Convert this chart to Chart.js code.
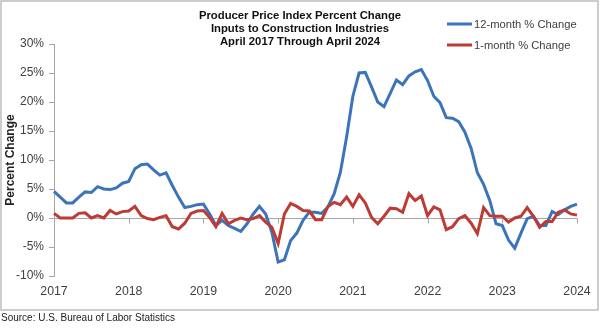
<!DOCTYPE html>
<html>
<head>
<meta charset="utf-8">
<script src="https://cdn.jsdelivr.net/npm/chart.js@4.4.1/dist/chart.umd.min.js"></script>
<style>
  html, body { margin: 0; padding: 0; background: #fff; }
  #wrap { position: relative; width: 600px; height: 328px; overflow: hidden; }
  #c { position: absolute; left: 0; top: 0; }
  #source {
    position: absolute; left: 1px; top: 312px;
    font: 10px "Liberation Sans", Arial, sans-serif; color: #222;
    white-space: nowrap;
  }
</style>
</head>
<body>
<div id="wrap">
  <canvas id="c" width="600" height="328"></canvas>
  <div id="source">Source: U.S. Bureau of Labor Statistics</div>
</div>
<script>
// Chart text
const titleLines = [
  'Producer Price Index Percent Change',
  'Inputs to Construction Industries',
  'April 2017 Through April 2024'
];
const yAxisTitle = 'Percent Change';
const seriesNames = ['12-month % Change', '1-month % Change'];

// Categories: monthly, April 2017 through April 2024
const startYear = 2017, startMonth = 3; // April (0-based)
const monthCount = 85;
const months = [];
for (let i = 0; i < monthCount; i++) {
  const m = startMonth + i;
  months.push(new Date(startYear + Math.floor(m / 12), m % 12, 1)
    .toLocaleString('en-US', { month: 'short', year: 'numeric' }));
}

// Year labels shown every 12 months along the bottom axis
const yearLabels = ['2017', '2018', '2019', '2020', '2021', '2022', '2023', '2024'];

// 12-month percent change
const twelveMonth = [
  4.6, 3.6, 2.6, 2.6, 3.6, 4.5, 4.4, 5.4, 5.0, 4.9, 5.2, 6.0,
  6.3, 8.5, 9.2, 9.3, 8.3, 7.4, 7.8, 5.6, 3.6, 1.8, 2.0, 2.3,
  2.4, 0.7, -1.3, -0.4, -1.3, -1.8, -2.3, -1.0, 0.7, 2.0, 0.7, -2.5,
  -7.6, -7.2, -3.9, -2.6, -0.4, 1.0, 1.0, 0.8, 1.9, 4.2, 7.9, 14.0,
  21.0, 25.0, 25.1, 22.6, 20.0, 19.2, 21.5, 23.8, 23.0, 24.5, 25.2, 25.6,
  23.7, 21.0, 19.9, 17.3, 17.2, 16.6, 14.8, 12.0, 7.8, 5.8, 3.0, -1.0,
  -1.3, -3.8, -5.2, -2.6, -0.1, 0.3, -1.3, -1.3, 1.1, 0.6, 1.4, 2.0,
  2.4
];

// 1-month percent change
const oneMonth = [
  0.8, 0.0, 0.0, 0.0, 0.8, 0.9, 0.0, 0.4, 0.0, 1.3, 0.7, 1.1,
  1.2, 2.0, 0.4, -0.1, -0.3, 0.1, 0.4, -1.5, -1.9, -0.9, 0.8, 1.2,
  1.3, 0.1, -1.5, 0.8, -1.0, -0.4, 0.0, -0.3, -0.1, 0.4, -0.7, -1.6,
  -4.4, 0.7, 2.5, 2.0, 1.3, 1.2, -0.3, -0.3, 2.0, 2.7, 2.3, 3.6,
  2.0, 4.0, 2.6, 0.1, -1.0, 0.3, 1.7, 1.6, 1.0, 4.2, 3.0, 3.8,
  0.4, 1.9, 1.4, -2.0, -1.5, -0.1, 0.4, -0.9, -2.7, 1.8, 0.4, 0.3,
  0.3, -0.7, 0.0, 0.3, 1.8, 0.3, -1.6, -0.6, -0.6, 1.0, 1.4, 0.7,
  0.5
];

const BLUE = '#3b74b9';
const RED = '#be3a35';
const AXIS = '#a6a6a6';
const FONT = '"Liberation Sans", Arial, sans-serif';

// Frame, heading, legend and the year tick marks on the zero line
const decorations = {
  id: 'decorations',
  afterDraw(chart) {
    const ctx = chart.ctx;
    const x = chart.scales.x, y = chart.scales.y;
    ctx.save();

    // outer frame
    ctx.strokeStyle = '#bdbdbd';
    ctx.lineWidth = 1.5;
    ctx.strokeRect(1, 1, 597, 309);

    // tick marks under the zero line at each year
    const y0 = Math.round(y.getPixelForValue(0)) + 0.5;
    ctx.strokeStyle = AXIS;
    ctx.lineWidth = 1;
    ctx.beginPath();
    for (let i = 0; i < monthCount; i += 12) {
      const px = Math.round(x.getPixelForValue(i)) + 0.5;
      ctx.moveTo(px, y0);
      ctx.lineTo(px, y0 + 5);
    }
    ctx.stroke();

    // heading
    ctx.fillStyle = '#111';
    ctx.font = 'bold 11.3px ' + FONT;
    ctx.textAlign = 'center';
    ctx.textBaseline = 'middle';
    titleLines.forEach((t, k) => ctx.fillText(t, 300, 15.5 + k * 13.4));

    // legend
    ctx.font = '11.2px ' + FONT;
    ctx.textAlign = 'left';
    ctx.fillStyle = '#404040';
    chart.data.datasets.forEach((ds, k) => {
      const ly = 24 + k * 21;
      ctx.strokeStyle = ds.borderColor;
      ctx.lineWidth = 3;
      ctx.beginPath();
      ctx.moveTo(447, ly);
      ctx.lineTo(472, ly);
      ctx.stroke();
      ctx.fillText(ds.label, 474, ly + 1);
    });
    ctx.restore();
  }
};

new Chart(document.getElementById('c'), {
  type: 'line',
  data: {
    labels: months,
    datasets: [
      { label: seriesNames[0], data: twelveMonth, borderColor: BLUE, backgroundColor: BLUE,
        borderWidth: 3, pointRadius: 0, tension: 0, order: 2 },
      { label: seriesNames[1], data: oneMonth, borderColor: RED, backgroundColor: RED,
        borderWidth: 3, pointRadius: 0, tension: 0, order: 1 }
    ]
  },
  options: {
    responsive: false,
    animation: false,
    events: [],
    layout: { padding: { left: 0, right: 23, top: 44, bottom: 22 } },
    plugins: {
      legend: { display: false },
      title: { display: false },
      tooltip: { enabled: false }
    },
    scales: {
      x: {
        type: 'category',
        offset: false,
        grid: { display: false, drawTicks: false },
        border: { display: false },
        ticks: {
          autoSkip: false,
          maxRotation: 0,
          padding: 8,
          color: '#404040',
          font: { family: FONT, size: 12.3 },
          callback: (v, i) => (i % 12 === 0 ? yearLabels[i / 12] : null)
        },
        afterFit: s => { s.height = 30; }
      },
      y: {
        min: -10,
        max: 30,
        grid: {
          color: c => (c.tick && c.tick.value === 0 ? AXIS : 'rgba(0,0,0,0)'),
          tickColor: AXIS,
          tickLength: 5,
          drawTicks: true,
          lineWidth: 1
        },
        border: { display: true, color: AXIS, width: 1 },
        ticks: {
          stepSize: 5,
          padding: 5,
          color: '#404040',
          font: { family: FONT, size: 12 },
          callback: v => v + '%'
        },
        title: {
          display: true,
          text: yAxisTitle,
          color: '#222',
          font: { family: FONT, size: 12, weight: 'bold' },
          padding: { top: 3, bottom: 0 }
        },
        afterFit: s => { s.width = 54; }
      }
    }
  },
  plugins: [decorations]
});
</script>
</body>
</html>
